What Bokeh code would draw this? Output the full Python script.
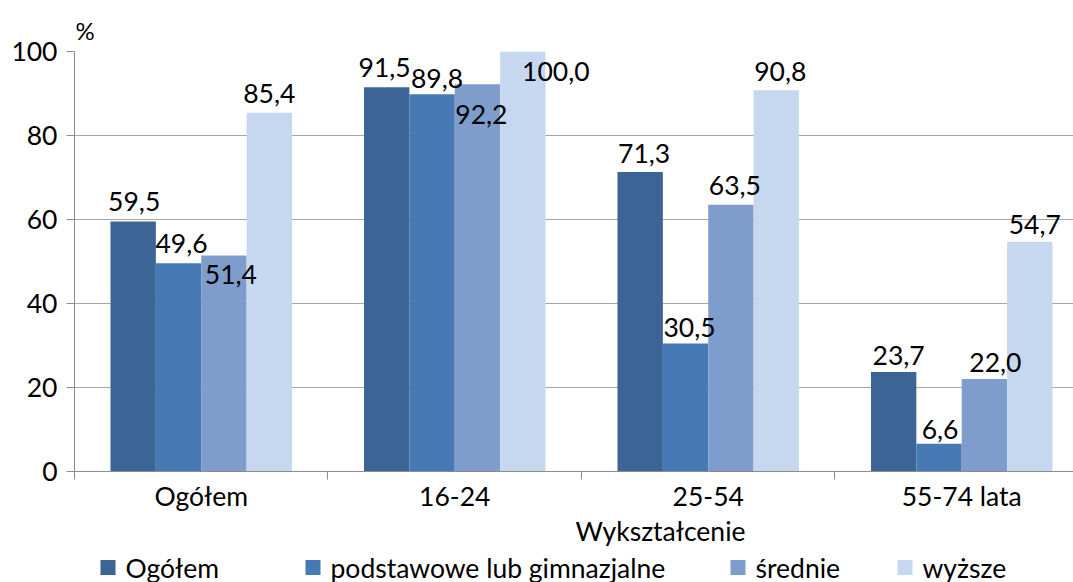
from bokeh.plotting import figure
from bokeh.layouts import column
from bokeh.models import Range1d, FixedTicker, Title
from bokeh.core.properties import value
from bokeh.embed import file_html
from bokeh.resources import INLINE

# ---- data ----
categories = ["Ogółem", "16-24", "25-54", "55-74 lata"]
series_names = ["Ogółem", "podstawowe lub gimnazjalne", "średnie", "wyższe"]
ogolem = [59.5, 91.5, 71.3, 23.7]
podstawowe = [49.6, 89.8, 30.5, 6.6]
srednie = [51.4, 92.2, 63.5, 22.0]
wyzsze = [85.4, 100.0, 90.8, 54.7]
y_ticks = [0, 20, 40, 60, 80, 100]

# ---- styles ----
colors = ["#3C6494", "#4779B4", "#7F9DCC", "#C6D8F0"]
FONT = "Lato"
FS = "26.5px"
BAR_W = 0.179
X_END = 3.941
AXIS_COLOR = "#8C8C8C"
GRID_COLOR = "#A6A6A6"
LEFT = 74
W, H_MAIN, H_LEG = 1073, 514, 68
# label offsets (px) relative to bar top / bar centre, per series across groups
label_dy = [[-20, -20, -19, -16], [-20, -16, -16, -14], [19, 30, -19, -17], [-19, 20, -19, -17]]
label_dx = [[1, -2, 4, 5], [3, 5, 4, 1], [7, 4, 4, 11], [0, 33, 4, 5]]
# legend strip layout (page px; y measured from the strip's bottom)
legend_marker_x = [107.5, 312.5, 737.5, 904.5]
legend_y = 15
xlabel_pos = (660, 52)

p = figure(width=W, height=H_MAIN, x_range=Range1d(0, X_END), y_range=Range1d(0, 100),
           output_backend="svg", toolbar_location=None,
           min_border_left=LEFT, min_border_right=0, min_border_top=51, min_border_bottom=43)
p.outline_line_color = None
p.background_fill_color = "white"

all_series = [ogolem, podstawowe, srednie, wyzsze]
xs_all = []
for j, vals in enumerate(all_series):
    xs = [i + 0.5 + (j - 1.5) * BAR_W for i in range(len(categories))]
    xs_all.append(xs)
    p.vbar(x=xs, top=vals, width=BAR_W, bottom=0, fill_color=colors[j], line_color=None)

for j, vals in enumerate(all_series):
    p.text(x=xs_all[j], y=vals, text=[f"{v:.1f}".replace(".", ",") for v in vals],
           x_offset=label_dx[j], y_offset=label_dy[j],
           text_align="center", text_baseline="middle",
           text_font=value(FONT), text_font_size=FS, text_color="black")

# axes
p.xaxis.ticker = FixedTicker(ticks=[i + 0.5 for i in range(len(categories))],
                             minor_ticks=list(range(len(categories) + 1)))
p.xaxis.major_label_overrides = {i + 0.5: c for i, c in enumerate(categories)}
p.xaxis.major_tick_out = 0
p.xaxis.major_tick_in = 0
p.xaxis.minor_tick_out = 8
p.xaxis.minor_tick_in = 0
p.xaxis.minor_tick_line_color = AXIS_COLOR
p.xaxis.axis_line_color = AXIS_COLOR
p.xaxis.major_label_standoff = 0

p.yaxis.ticker = FixedTicker(ticks=y_ticks)
p.yaxis.major_tick_out = 8
p.yaxis.major_tick_in = 0
p.yaxis.minor_tick_line_color = None
p.yaxis.major_tick_line_color = AXIS_COLOR
p.yaxis.axis_line_color = AXIS_COLOR
p.yaxis.major_label_standoff = 9

for ax in (p.xaxis, p.yaxis):
    ax.major_label_text_font = FONT
    ax.major_label_text_font_size = FS
    ax.major_label_text_color = "black"

p.xgrid.visible = False
p.ygrid.ticker = FixedTicker(ticks=y_ticks)
p.ygrid.grid_line_color = GRID_COLOR

# "%" unit title above the value axis
p.add_layout(Title(text="%", align="left", offset=1, standoff=13,
                   text_font=FONT, text_font_size="24px", text_font_style="normal",
                   text_color="black"), "above")

# ---- bottom strip: axis title + legend (x in page pixels) ----
p2 = figure(width=W, height=H_LEG, x_range=Range1d(LEFT, W), y_range=Range1d(0, H_LEG),
            output_backend="svg", toolbar_location=None,
            x_axis_location=None, y_axis_location=None,
            min_border_left=LEFT, min_border_right=0, min_border_top=0, min_border_bottom=0)
p2.outline_line_color = None
p2.grid.visible = False

p2.text(x=[xlabel_pos[0]], y=[xlabel_pos[1]], text=["Wykształcenie"],
        text_align="center", text_baseline="middle",
        text_font=value(FONT), text_font_size=FS, text_color="black")
p2.scatter(x=legend_marker_x, y=[legend_y] * 4, marker="square", size=15,
           fill_color=colors, line_color=None)
p2.text(x=[mx + 17.5 for mx in legend_marker_x], y=[legend_y] * 4, text=series_names,
        text_align="left", text_baseline="middle",
        text_font=value(FONT), text_font_size=FS, text_color="black")

layout = column(p, p2, spacing=0)
open("out.html", "w").write(file_html(layout, INLINE))
